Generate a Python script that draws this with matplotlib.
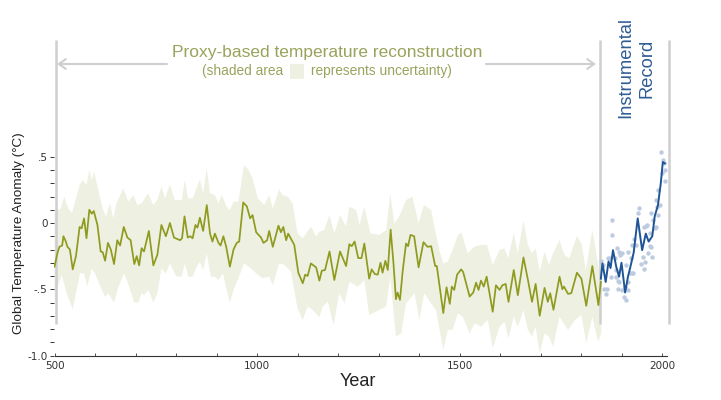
import numpy as np
import matplotlib
matplotlib.use("Agg")
import matplotlib.pyplot as plt
from matplotlib.patches import Rectangle

proxy_years = [500,507,512,519,522,528,532,538,545,553,562,567,573,579,586,592,597,606,614,619,625,632,639,647,655,662,671,680,688,697,703,709,715,721,733,744,754,764,775,785,795,810,815,821,829,835,841,848,853,859,867,876,884,890,896,905,910,917,924,933,942,950,956,966,975,983,989,998,1010,1016,1025,1030,1039,1053,1059,1065,1072,1077,1092,1102,1113,1119,1125,1133,1146,1154,1160,1168,1179,1191,1205,1220,1228,1234,1241,1250,1258,1265,1277,1283,1291,1298,1305,1310,1317,1323,1330,1337,1343,1347,1353,1360,1368,1373,1379,1388,1399,1411,1421,1430,1440,1444,1460,1468,1476,1481,1487,1494,1504,1509,1525,1534,1541,1547,1553,1560,1567,1582,1590,1599,1606,1614,1621,1634,1644,1658,1669,1679,1688,1698,1710,1718,1724,1732,1747,1754,1758,1768,1776,1790,1801,1813,1828,1843,1849]
proxy_temp = [-.33,-.23,-.18,-.17,-.10,-.14,-.18,-.20,-.35,-.25,-.03,-.04,.035,-.115,.10,.07,.09,-.015,-.215,-.22,-.285,-.15,-.20,-.31,-.13,-.17,-.03,-.11,-.13,-.31,-.25,-.32,-.19,-.215,-.06,-.32,-.24,-.015,-.10,.0,-.11,-.13,-.115,.05,-.11,-.10,-.115,-.015,-.035,.04,-.06,.135,-.08,-.14,-.08,-.15,-.17,-.10,-.18,-.33,-.20,-.15,-.14,.155,.125,.035,.06,-.07,-.11,-.15,-.13,-.06,-.18,-.02,-.07,-.03,-.13,-.08,-.165,-.375,-.455,-.39,-.40,-.305,-.335,-.435,-.36,-.355,-.215,-.43,-.215,-.325,-.16,-.175,-.14,-.265,-.265,-.155,-.42,-.35,-.385,-.39,-.30,-.375,-.285,-.355,-.05,-.305,-.575,-.525,-.58,-.355,-.155,-.175,-.09,-.10,-.335,-.145,-.18,-.175,-.325,-.325,-.68,-.485,-.61,-.48,-.505,-.39,-.35,-.37,-.555,-.525,-.45,-.505,-.435,-.48,-.405,-.67,-.47,-.505,-.47,-.46,-.595,-.355,-.545,-.26,-.43,-.595,-.46,-.70,-.49,-.595,-.53,-.655,-.405,-.50,-.48,-.535,-.53,-.375,-.42,-.625,-.325,-.62,-.445]

upper_years = [500,507,514,524,534,543,551,562,570,579,586,592,598,608,619,627,637,645,653,670,682,695,704,715,731,744,754,764,773,785,797,814,822,830,841,851,859,867,876,884,896,905,913,925,933,942,954,968,979,989,1002,1018,1030,1039,1055,1063,1076,1088,1100,1113,1133,1146,1154,1166,1179,1191,1205,1220,1228,1245,1253,1265,1280,1302,1319,1329,1339,1351,1368,1384,1399,1412,1430,1438,1450,1460,1471,1483,1496,1505,1520,1537,1553,1568,1582,1599,1611,1620,1634,1644,1658,1669,1679,1688,1698,1710,1721,1731,1747,1759,1771,1790,1801,1812,1828,1842,1850]
upper_temp = [.098,.11,.098,.198,.11,.073,.161,.286,.324,.286,.40,.324,.387,.249,.11,.048,.148,.035,.148,.262,.161,.211,.136,.148,.224,.136,.173,.274,.186,.292,.173,.173,.324,.186,.186,.262,.329,.224,.412,.224,.211,.148,.211,.123,.098,.161,.161,.437,.40,.337,.186,.136,.211,.11,.254,.211,.199,.148,-.078,-.116,-.028,-.103,-.065,-.053,.060,-.078,.06,-.028,.123,.098,-.015,.123,-.078,-.09,-.053,.224,-.003,.048,.173,.199,-.003,.136,.098,-.028,-.204,-.305,-.292,-.204,-.09,-.073,-.229,-.179,-.166,-.166,-.317,-.204,-.191,-.267,-.078,-.229,.018,-.166,-.229,-.191,-.367,-.216,-.317,-.229,-.128,-.242,-.267,-.098,-.153,-.355,-.053,-.304,-.405]

lower_years = [500,510,518,530,545,553,563,573,581,592,600,613,625,633,647,658,672,683,697,707,715,721,732,744,754,764,775,785,801,814,822,830,841,851,859,867,876,886,896,905,916,925,933,942,954,968,979,991,998,1014,1030,1039,1055,1068,1084,1100,1113,1125,1138,1154,1162,1175,1189,1203,1216,1228,1249,1265,1277,1294,1319,1329,1343,1356,1368,1389,1401,1413,1430,1442,1460,1471,1483,1496,1508,1525,1537,1553,1570,1582,1599,1611,1621,1634,1644,1658,1669,1679,1688,1698,1710,1721,1731,1747,1768,1785,1801,1813,1828,1842,1850]
lower_temp = [-.60,-.455,-.392,-.53,-.65,-.53,-.38,-.38,-.48,-.344,-.38,-.48,-.556,-.53,-.60,-.48,-.38,-.468,-.60,-.60,-.53,-.543,-.506,-.60,-.53,-.344,-.38,-.304,-.405,-.405,-.304,-.405,-.405,-.33,-.292,-.355,-.23,-.405,-.405,-.43,-.38,-.506,-.60,-.506,-.418,-.304,-.33,-.36,-.38,-.418,-.405,-.468,-.304,-.317,-.367,-.644,-.732,-.63,-.657,-.712,-.63,-.594,-.77,-.53,-.607,-.443,-.481,-.43,-.694,-.669,-.63,-.405,-.858,-.833,-.606,-.53,-.732,-.53,-.606,-.657,-.958,-.807,-.807,-.682,-.707,-.833,-.757,-.782,-.732,-.946,-.782,-.745,-.87,-.707,-.782,-.657,-.807,-.858,-.782,-.984,-.833,-.858,-.933,-.707,-.807,-.732,-.694,-.908,-.707,-.896,-.833]

inst_years = [1849,1853,1861,1868,1873,1879,1887,1894,1900,1909,1916,1922,1930,1940,1951,1960,1967,1976,1982,1990,1997,2002,2007]
inst_temp = [-.42,-.305,-.445,-.29,-.34,-.205,-.33,-.405,-.30,-.525,-.405,-.33,-.225,.035,-.205,-.08,-.14,-.10,.05,.135,.30,.46,.45]

dot_years = [1850,1854,1857,1863,1861,1867,1871,1875,1877,1877,1883,1886,1886,1889,1891,1894,1895,1897,1900,1891,1902,1905,1910,1908,1912,1915,1915,1916,1920,1923,1925,1928,1927,1932,1937,1941,1944,1949,1953,1955,1956,1957,1960,1963,1966,1970,1971,1974,1976,1974,1978,1982,1984,1984,1988,1991,1991,1994,1998,2000,2002,2005,2008,2008]
dot_temp = [-.287,-.317,-.50,-.50,-.536,-.267,-.267,-.405,.023,-.093,-.267,-.355,-.405,-.191,-.435,-.216,-.443,-.242,-.229,-.50,-.506,-.556,-.581,-.48,-.317,-.216,-.443,-.506,-.38,-.267,-.375,-.38,-.166,-.123,-.166,.073,.116,-.312,-.254,-.028,-.35,-.292,-.023,-.015,-.229,-.174,-.078,-.179,-.259,.073,.023,-.04,-.028,.174,.123,.058,.249,.136,.538,.375,.475,.45,.40,.32]

W, H = 721, 400
olive = "#8f9b1e"
band = "#eef0e2"
blue = "#1f5596"
gray = "#cfcfcf"
title_col = "#9aa35c"
inst_col = "#2f5d94"

def fx(x):
    return x / W

def fy(y):
    return 1 - y / H

plt.rcParams['font.family'] = 'Liberation Sans'
fig = plt.figure(figsize=(W / 100, H / 100), dpi=100)
ax = fig.add_axes([fx(54.5), fy(355.5), fx(667 - 54.5), (355.5 - 40) / H])
ax.set_xlim(500, 500 + (667 - 54.5) / 0.405)
ax.set_ylim(-1.0, (223 - 40) / 132.5)

ax.fill(upper_years + lower_years[::-1], upper_temp + lower_temp[::-1], color=band, lw=0, zorder=1)
ax.vlines([504, 1847, 2017], -0.76, 1.38, color=gray, lw=1.8, zorder=2, clip_on=False)
ax.plot(proxy_years, proxy_temp, color=olive, lw=1.25, zorder=3, solid_joinstyle='round')
ax.scatter(dot_years, dot_temp, s=10, color="#bccbe0", lw=0, zorder=4)
ax.plot(inst_years, inst_temp, color=blue, lw=1.4, zorder=5, solid_joinstyle='round')

for s in ['top', 'right', 'left']:
    ax.spines[s].set_visible(False)
ax.spines['bottom'].set_color('#333333')
ax.spines['bottom'].set_linewidth(0.8)

ax.set_xticks([500, 1000, 1500, 2000])
ax.set_xticks(np.arange(500, 2001, 100), minor=True)
ax.tick_params(axis='x', which='both', direction='in', length=2, width=0.6, color='#333333',
               labelsize=7.5, labelcolor='#333333', pad=4)
for lab in ax.get_xticklabels():
    lab.set_family('DejaVu Sans')
ax.set_yticks([.5, 0, -.5, -1.0])
ax.set_yticklabels(['.5', '0', '-.5', '-1.0'])
ax.set_yticks(np.arange(-1.0, 0.51, 0.1), minor=True)
ax.tick_params(axis='y', which='both', length=3, width=0.7, color='#333333',
               labelsize=7.5, labelcolor='#333333', pad=2)
for lab in ax.get_yticklabels():
    lab.set_family('DejaVu Sans')

fig.text(fx(358), fy(381), 'Year', fontsize=13, color='#222222', ha='center', va='center')
fig.text(fx(19.5), fy(233), 'Global Temperature Anomaly (°C)', fontsize=9.7, color='#222222',
         rotation=90, ha='center', va='center')

fig.text(fx(327), fy(52), 'Proxy-based temperature reconstruction', fontsize=12.5, color=title_col,
         ha='center', va='center')
fig.text(fx(242.5), fy(71.5), '(shaded area', fontsize=9.9, color=title_col, ha='center', va='center')
fig.text(fx(381.5), fy(71.5), 'represents uncertainty)', fontsize=9.9, color=title_col, ha='center', va='center')
fig.add_artist(Rectangle((fx(290), fy(79)), 14 / W, 15 / H, color=band, lw=0, transform=fig.transFigure))

for start, end in [((167, 64), (57, 64)), ((486, 64), (596, 64))]:
    ax.annotate('', xy=(fx(end[0]), fy(end[1])), xytext=(fx(start[0]), fy(start[1])),
                xycoords='figure fraction', textcoords='figure fraction',
                arrowprops=dict(arrowstyle='->,head_length=0.5,head_width=0.35', color=gray, lw=1.5,
                                shrinkA=0, shrinkB=0))

fig.text(fx(626), fy(68), 'Instrumental', fontsize=13.2, color=inst_col, rotation=90, ha='center', va='center')
fig.text(fx(647), fy(68), 'Record', fontsize=13.2, color=inst_col, rotation=90, ha='center', va='center')

fig.savefig('out.png', dpi=100)
